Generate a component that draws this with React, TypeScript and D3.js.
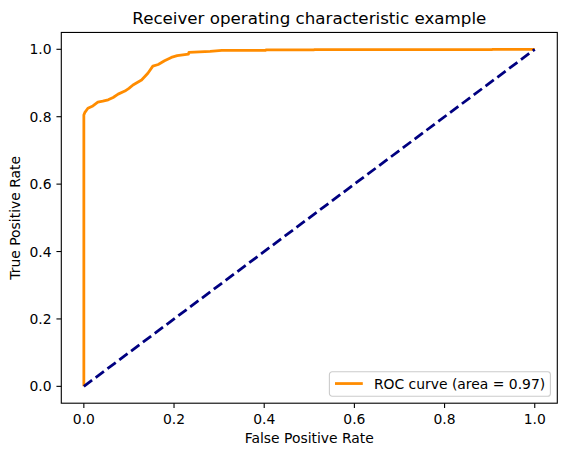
import { useMemo } from "react";
import * as d3 from "d3";

const WIDTH = 567;
const HEIGHT = 455;
// axes box in pixels (matplotlib default figure, cropped tight)
const MARGIN = { top: 32.45, right: 9.7, bottom: 51.8, left: 61.3 };
const FONT = "DejaVu Sans, sans-serif";

// ROC curve
const fpr = [
  0, 0, 0.002, 0.009, 0.02, 0.031, 0.042, 0.054, 0.065, 0.076, 0.091, 0.1,
  0.109, 0.128, 0.142, 0.153, 0.165, 0.179, 0.194, 0.207, 0.232, 0.233, 0.28,
  0.306, 0.403, 0.404, 0.51, 0.511, 0.905, 0.906, 1,
];
const tpr = [
  0, 0.805, 0.812, 0.825, 0.832, 0.843, 0.846, 0.85, 0.857, 0.867, 0.876,
  0.884, 0.894, 0.909, 0.929, 0.95, 0.955, 0.966, 0.976, 0.981, 0.986, 0.991,
  0.994, 0.997, 0.997, 0.998, 0.998, 0.999, 0.999, 1, 1,
];
const chance = [0, 1];
const ticks = [0, 0.2, 0.4, 0.6, 0.8, 1.0];
const rocArea = 0.97;

const App = () => {
  const boundsWidth = WIDTH - MARGIN.left - MARGIN.right;
  const boundsHeight = HEIGHT - MARGIN.top - MARGIN.bottom;

  const xScale = useMemo(
    () => d3.scaleLinear().domain([-0.05, 1.05]).range([0, boundsWidth]),
    [boundsWidth]
  );
  const yScale = useMemo(
    () => d3.scaleLinear().domain([-0.05, 1.05]).range([boundsHeight, 0]),
    [boundsHeight]
  );

  const line = d3
    .line<number>()
    .x((_, i) => xScale(fpr[i]))
    .y((d) => yScale(d));
  const rocPath = line(tpr) ?? "";
  const chancePath =
    d3
      .line<number>()
      .x((d) => xScale(d))
      .y((d) => yScale(d))(chance) ?? "";

  const tickLen = 4.86;
  const tickPad = 4.86;
  const fs = 13.9;

  // legend box
  const legW = 221;
  const legH = 24.5;
  const legX = boundsWidth - 6.9 - legW;
  const legY = boundsHeight - 6.9 - legH;

  return (
    <svg
      width={WIDTH}
      height={HEIGHT}
      style={{ position: "absolute", left: 0, top: 0, background: "#fff" }}
      fontFamily={FONT}
    >
      <text
        x={MARGIN.left + boundsWidth / 2}
        y={24.3}
        textAnchor="middle"
        fontSize={16.7}
        fill="#000"
      >
        Receiver operating characteristic example
      </text>
      <g transform={`translate(${MARGIN.left},${MARGIN.top})`}>
        <defs>
          <clipPath id="clip">
            <rect width={boundsWidth} height={boundsHeight} />
          </clipPath>
        </defs>
        <g clipPath="url(#clip)">
          <path
            d={rocPath}
            fill="none"
            stroke="darkorange"
            strokeWidth={2.78}
            strokeLinejoin="round"
          />
          <path
            d={chancePath}
            fill="none"
            stroke="navy"
            strokeWidth={2.78}
            strokeDasharray="10.3,4.45"
          />
        </g>
        <rect
          width={boundsWidth}
          height={boundsHeight}
          fill="none"
          stroke="#000"
          strokeWidth={1.1}
        />
        {ticks.map((t) => (
          <g key={"x" + t} transform={`translate(${xScale(t)},${boundsHeight})`}>
            <line y2={tickLen} stroke="#000" strokeWidth={1.1} />
            <text
              y={tickLen + tickPad + 10.6}
              textAnchor="middle"
              fontSize={fs}
              fill="#000"
            >
              {t.toFixed(1)}
            </text>
          </g>
        ))}
        {ticks.map((t) => (
          <g key={"y" + t} transform={`translate(0,${yScale(t)})`}>
            <line x2={-tickLen} stroke="#000" strokeWidth={1.1} />
            <text
              x={-tickLen - tickPad}
              y={5}
              textAnchor="end"
              fontSize={fs}
              fill="#000"
            >
              {t.toFixed(1)}
            </text>
          </g>
        ))}
        <text
          x={boundsWidth / 2}
          y={boundsHeight + 39.4}
          textAnchor="middle"
          fontSize={fs}
          fill="#000"
        >
          False Positive Rate
        </text>
        <text
          transform={`translate(${20.3 - MARGIN.left},${boundsHeight / 2}) rotate(-90)`}
          textAnchor="middle"
          fontSize={fs}
          fill="#000"
        >
          True Positive Rate
        </text>
        <g transform={`translate(${legX},${legY})`}>
          <rect
            width={legW}
            height={legH}
            rx={2.8}
            fill="#fff"
            fillOpacity={0.8}
            stroke="#cccccc"
            strokeWidth={1.1}
          />
          <line
            x1={5.6}
            x2={33.4}
            y1={legH / 2 - 0.5}
            y2={legH / 2 - 0.5}
            stroke="darkorange"
            strokeWidth={2.78}
          />
          <text x={44.5} y={legH / 2 + 4.8} fontSize={fs} fill="#000">
            {`ROC curve (area = ${rocArea.toFixed(2)})`}
          </text>
        </g>
      </g>
    </svg>
  );
};

export default App;
